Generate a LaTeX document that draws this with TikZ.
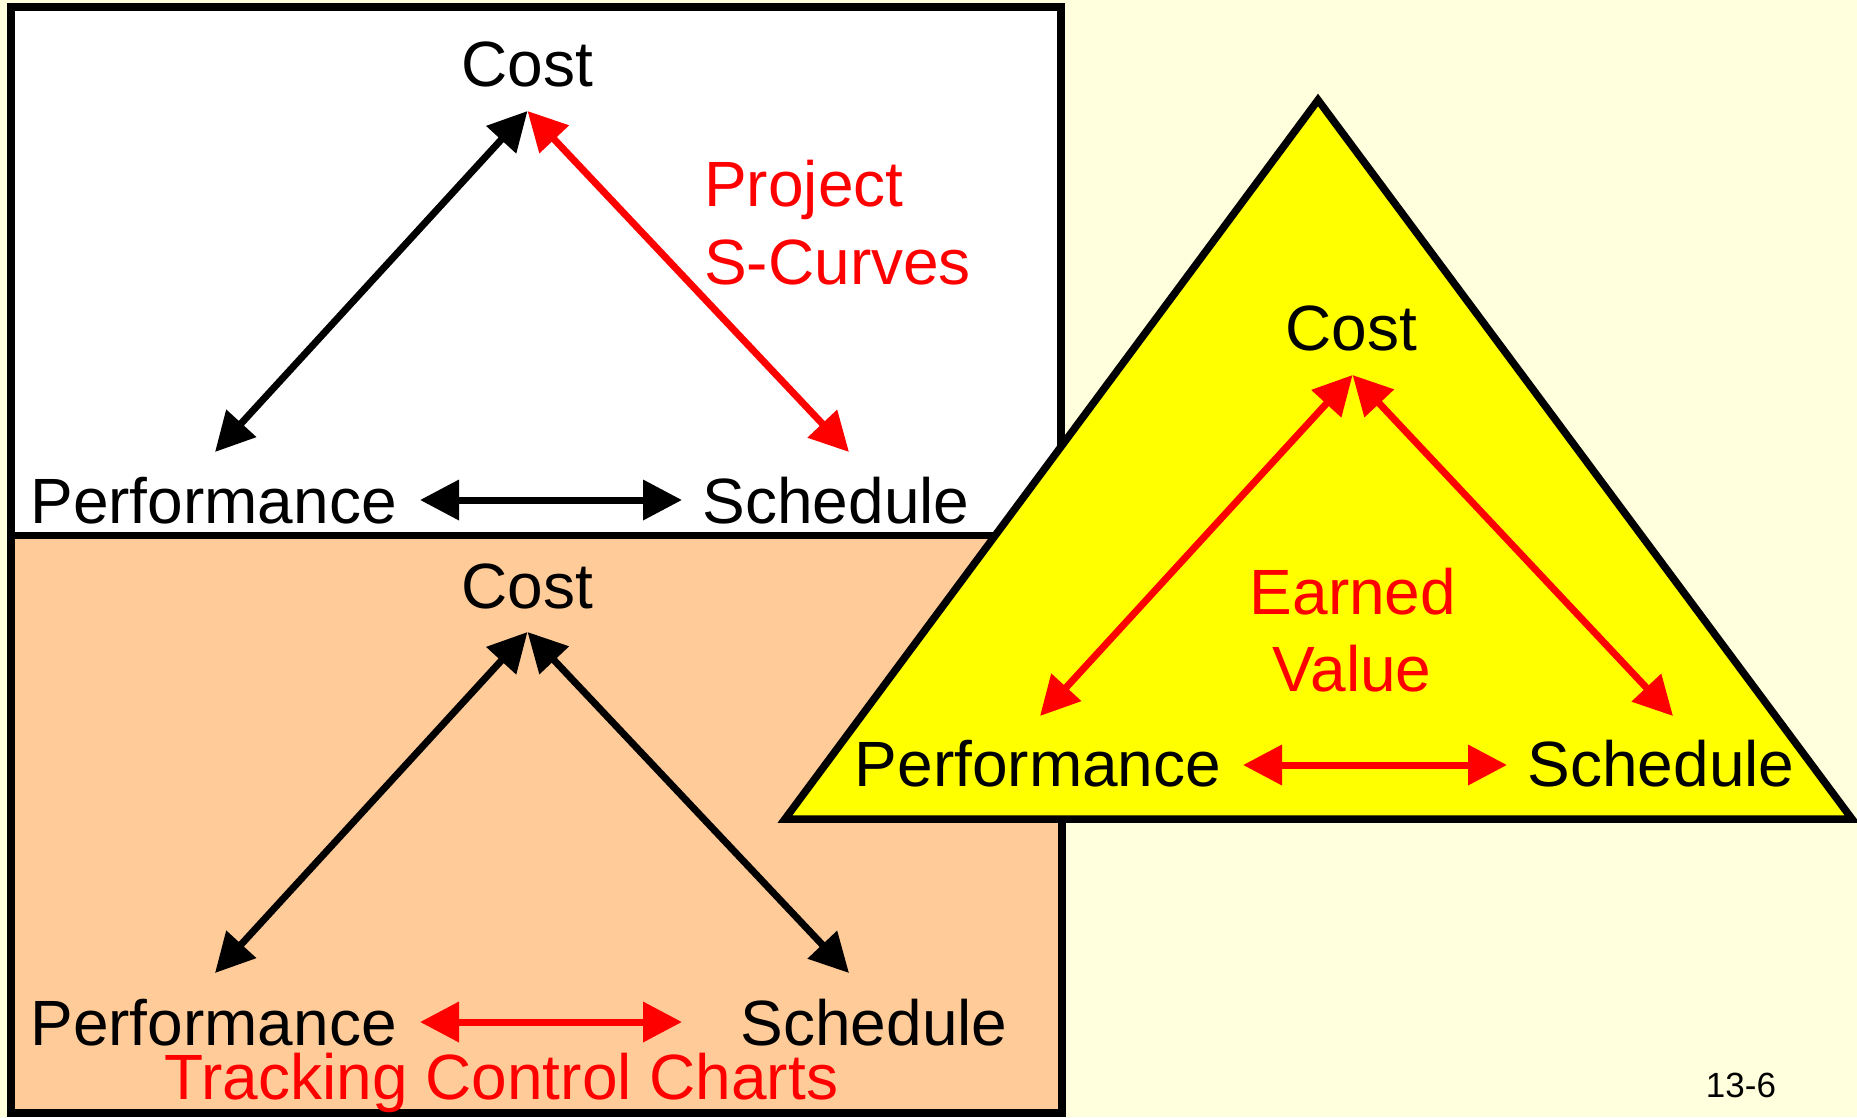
\documentclass[tikz,border=0pt]{standalone}
\usepackage{fontspec}
\setmainfont{Liberation Sans}
\usetikzlibrary{arrows.meta}
\definecolor{pagebg}{HTML}{FFFFDD}
\definecolor{peach}{HTML}{FFCC99}
\definecolor{evyellow}{HTML}{FFFF00}
\definecolor{evred}{HTML}{FF0000}
\begin{document}
\begin{tikzpicture}[x=1pt,y=-1pt,
  lbl/.style={inner sep=0pt, anchor=base, font=\fontsize{64}{70}\selectfont},
  redlbl/.style={lbl, text=evred},
  frame/.style={draw=black, line width=7.5pt},
  link/.style={line width=7pt, >={Triangle[length=39pt,width=39pt]}, <->},
  redlink/.style={link, draw=evred, fill=evred}]

% page background
\fill[pagebg] (0,0) rectangle (1857,1117);
\useasboundingbox (0,0) rectangle (1857,1117);

% two panels on the left
\filldraw[frame, fill=peach] (11,535.5) rectangle (1062,1113);
\filldraw[frame, fill=white] (11,7) rectangle (1061,535.5);

% ---- upper panel: S-curves ----
\node[lbl] (costA) at (527,86) {Cost};
\node[lbl] (perfA) at (213.5,523) {Performance};
\node[lbl] (schedA) at (836,523) {Schedule};
\node[redlbl, anchor=base west] (projA) at (704,206) {Project};
\node[redlbl, anchor=base west] (scurA) at (704,284) {S-Curves};
\coordinate (cA) at (527.5,111);
\coordinate (pA) at (215,452);
\coordinate (sA) at (849,452);
\coordinate (phA) at (420,500);
\coordinate (shA) at (682,500);
\draw[link] (cA) -- (pA);
\draw[redlink] (cA) -- (sA);
\draw[link] (phA) -- (shA);

% ---- lower panel: control charts ----
\node[lbl] (costB) at (527,608) {Cost};
\node[lbl] (perfB) at (213.5,1045.5) {Performance};
\node[lbl] (schedB) at (874,1045.5) {Schedule};
\node[redlbl] (trackB) at (501.5,1099) {Tracking Control Charts};
\coordinate (cB) at (527.5,632);
\coordinate (pB) at (215,973);
\coordinate (sB) at (849,973);
\coordinate (phB) at (420,1022);
\coordinate (shB) at (682,1022);
\draw[link] (cB) -- (pB);
\draw[link] (cB) -- (sB);
\draw[redlink] (phB) -- (shB);

% ---- earned value triangle ----
\filldraw[frame, fill=evyellow, line join=miter] (1318,100) -- (785,819) -- (1852,819) -- cycle;
\node[lbl] (costC) at (1351,350) {Cost};
\node[lbl] (perfC) at (1038,786.5) {Performance};
\node[lbl] (schedC) at (1661,786.5) {Schedule};
\node[redlbl] (earnC) at (1353,614) {Earned};
\node[redlbl] (valC) at (1352,691) {Value};
\coordinate (cC) at (1352.6,375);
\coordinate (pC) at (1040,716);
\coordinate (sC) at (1673,716);
\coordinate (phC) at (1243,765);
\coordinate (shC) at (1507,765);
\draw[redlink] (cC) -- (pC);
\draw[redlink] (cC) -- (sC);
\draw[redlink] (phC) -- (shC);

% slide number
\node[inner sep=0pt, anchor=base, font=\fontsize{35}{40}\selectfont] (slideno) at (1741,1097) {13-6};
\end{tikzpicture}
\end{document}
